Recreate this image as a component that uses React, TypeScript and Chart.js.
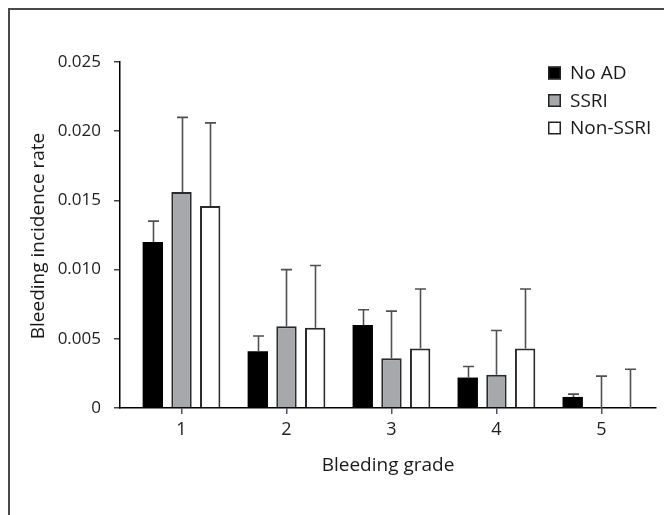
import React, { useEffect, useRef } from "react";
import { Chart, registerables } from "chart.js";
Chart.register(...registerables);

const grades = [1, 2, 3, 4, 5];
const seriesNames = ["No AD", "SSRI", "Non-SSRI"];
const noAD = [0.012, 0.0041, 0.006, 0.0022, 0.0008];
const noADErr = [0.0135, 0.0052, 0.0071, 0.003, 0.001];
const ssri = [0.0156, 0.0059, 0.0036, 0.0024, 0];
const ssriErr = [0.021, 0.01, 0.007, 0.0056, 0.0023];
const nonSsri = [0.0146, 0.0058, 0.0043, 0.0043, 0];
const nonSsriErr = [0.0206, 0.0103, 0.0086, 0.0086, 0.0028];
const yTicks = [0, 0.005, 0.01, 0.015, 0.02, 0.025];
const xTitle = "Bleeding grade";
const yTitle = "Bleeding incidence rate";

const fills = ["#000000", "#a7a8ac", "#ffffff"];
const borders = ["#000000", "#2a2a2a", "#2a2a2a"];
const FONT = "'Open Sans', 'Noto Sans', sans-serif";
const FS = 17;
const FS2 = 19;

export default function App() {
  const ref = useRef<HTMLCanvasElement | null>(null);
  useEffect(() => {
    if (!ref.current) return;
    const values = [noAD, ssri, nonSsri];
    const errs = [noADErr, ssriErr, nonSsriErr];
    const extras = {
      id: "extras",
      afterDatasetsDraw(chart: any) {
        const ctx = chart.ctx;
        const ys = chart.scales.y;
        ctx.save();
        values.forEach((vals, d) => {
          const meta = chart.getDatasetMeta(d);
          meta.data.forEach((bar: any, i: number) => {
            const x = Math.round(bar.x) + 0.5;
            const y0 = ys.getPixelForValue(vals[i]);
            const y1 = ys.getPixelForValue(errs[d][i]);
            ctx.strokeStyle = "#505050";
            ctx.lineWidth = 1.6;
            ctx.beginPath();
            ctx.moveTo(x, y0);
            ctx.lineTo(x, y1);
            ctx.moveTo(x - 5.5, y1);
            ctx.lineTo(x + 5.5, y1);
            ctx.stroke();
          });
        });
        ctx.font = `${FS2}px ${FONT}`;
        ctx.textBaseline = "middle";
        ctx.textAlign = "left";
        const rows = [73, 100.5, 128];
        seriesNames.forEach((name, k) => {
          const cy = rows[k];
          ctx.fillStyle = fills[k];
          ctx.fillRect(548, cy - 6.5, 13, 13);
          ctx.strokeStyle = "#222";
          ctx.lineWidth = 1.5;
          ctx.strokeRect(548.75, cy - 5.75, 11.5, 11.5);
          ctx.fillStyle = "#1a1a1a";
          ctx.fillText(name, 570, cy + 1);
        });
        ctx.textAlign = "center";
        ctx.fillText(xTitle, 388, 466);
        ctx.translate(38.5, 236);
        ctx.rotate(-Math.PI / 2);
        ctx.fillText(yTitle, 0, 0);
        ctx.restore();
      },
    };
    const chart = new Chart(ref.current, {
      type: "bar",
      data: {
        datasets: seriesNames.map((name, d) => ({
          label: name,
          data: grades.map((g, i) => ({ x: g, y: values[d][i] })),
          backgroundColor: fills[d],
          borderColor: borders[d],
          borderWidth: d === 0 ? 0 : 2,
          barPercentage: 0.71,
          categoryPercentage: 0.82,
        })),
      },
      options: {
        animation: false,
        responsive: false,
        devicePixelRatio: 1,
        layout: { padding: { left: 0, right: 8, top: 62, bottom: 0 } },
        plugins: { legend: { display: false }, tooltip: { enabled: false } },
        scales: {
          x: {
            type: "linear",
            min: 0.414,
            max: 5.52,
            offset: false,
            afterBuildTicks: (s: any) => {
              s.ticks = grades.map((v) => ({ value: v }));
            },
            afterFit: (s: any) => {
              s.height = 515 - 408;
            },
            grid: { drawOnChartArea: false, offset: false, tickLength: 6, color: "#555", lineWidth: 1.5 },
            border: { color: "#000", width: 1.5 },
            ticks: {
              color: "#222",
              font: { family: FONT, size: 18 },
              padding: 5,
              callback: (v: any) => String(v),
            },
          },
          y: {
            min: 0,
            max: 0.025,
            afterBuildTicks: (s: any) => {
              s.ticks = yTicks.map((v) => ({ value: v }));
            },
            afterFit: (s: any) => {
              s.width = 120;
            },
            grid: { drawOnChartArea: false, tickLength: 6, color: "#444", lineWidth: 1.5 },
            border: { color: "#000", width: 1.5 },
            ticks: {
              color: "#222",
              font: { family: FONT, size: FS },
              padding: 13,
              callback: (v: any) => (v === 0 ? "0" : Number(v).toFixed(3)),
            },
          },
        },
      },
      plugins: [extras],
    } as any);
    return () => chart.destroy();
  }, []);
  return (
    <div style={{ position: "absolute", left: 0, top: 0, width: 664, height: 515, overflow: "hidden", background: "#fff" }}>
      <div
        style={{
          position: "absolute",
          left: 8,
          top: 8,
          width: 900,
          height: 900,
          borderTop: "2px solid #4a4a4a",
          borderLeft: "2px solid #4a4a4a",
        }}
      />
      <canvas ref={ref} width={664} height={515} style={{ position: "absolute", left: 0, top: 0 }} />
    </div>
  );
}
